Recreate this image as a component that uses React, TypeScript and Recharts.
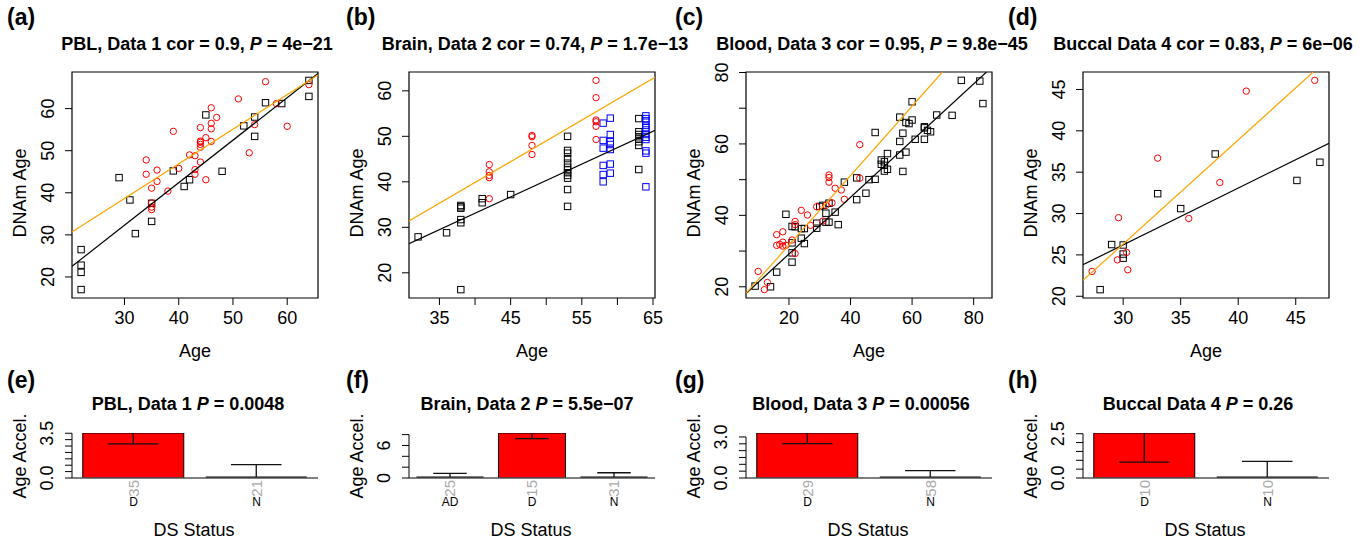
import React from 'react';
import { ScatterChart, Scatter, XAxis, YAxis, ReferenceArea, BarChart, Bar } from 'recharts';

const FONT = '"Liberation Sans", Arial, Helvetica, sans-serif';

// ---------------- (a) PBL, Data 1 ----------------
const pblNAge = [22, 22, 22, 22, 29, 31, 32, 35, 35, 39, 41, 42, 45, 48, 52, 54, 54, 56, 59, 64, 64];
const pblNDNAm = [26.5, 22.8, 21.1, 17.0, 43.6, 38.3, 30.3, 33.2, 37.5, 45.2, 41.5, 43.1, 58.5, 45.1, 55.9, 53.4, 58.0, 61.4, 61.2, 66.7, 62.9];
const pblDAge = [34, 34, 36, 36, 35, 35, 35, 35, 38, 39, 40, 42, 43, 43, 43, 44, 44, 44, 44, 44, 44, 45, 45, 46, 46, 46, 46, 47, 51, 53, 54, 56, 58, 60, 64];
const pblDDNAm = [47.8, 44.4, 45.4, 42.7, 41.1, 37.6, 36.6, 36.0, 40.4, 54.6, 45.8, 49.0, 48.8, 45.5, 44.4, 55.5, 52.3, 52.0, 51.5, 50.8, 47.3, 53.1, 43.1, 60.2, 56.5, 55.2, 52.2, 57.9, 62.3, 49.5, 56.2, 66.4, 61.2, 55.8, 65.7];
const pblFitBlack = [2.0, 1.01]; // intercept, slope
const pblFitOrange = [14.0, 0.822];

// ---------------- (b) Brain, Data 2 ----------------
const brainNAge = [32, 36, 38, 38, 38, 38, 38, 38, 41, 41, 45, 53, 53, 53, 53, 53, 53, 53, 53, 53, 53, 53, 53, 63, 63, 63, 63, 63, 63, 63, 63];
const brainNDNAm = [27.9, 28.8, 34.8, 34.2, 34.5, 31.7, 31.0, 16.3, 36.3, 35.4, 37.2, 50.0, 46.9, 46.3, 45.1, 44.1, 43.2, 42.6, 42.0, 41.4, 40.8, 38.3, 34.6, 53.9, 51.0, 50.4, 49.9, 49.4, 48.8, 48.0, 42.7];
const brainADAge = [58, 58, 58, 58, 58, 58, 59, 59, 59, 59, 59, 59, 59, 64, 64, 64, 64, 64, 64, 64, 64, 64, 64, 64, 64];
const brainADDNAm = [52.9, 49.1, 47.4, 43.6, 41.6, 40.0, 54.0, 50.4, 48.8, 48.2, 47.1, 43.9, 41.9, 54.5, 53.9, 53.4, 52.4, 51.9, 51.4, 50.4, 49.8, 49.3, 46.8, 46.3, 38.9];
const brainDAge = [42, 42, 42, 42, 42, 48, 48, 48, 48, 57, 57, 57, 57, 57, 57];
const brainDDNAm = [43.8, 42.2, 41.4, 40.9, 36.3, 50.2, 49.9, 48.0, 46.0, 62.3, 58.5, 53.6, 53.2, 52.2, 49.3];
const brainFitBlack = [4.3, 0.72];
const brainFitOrange = [3.3, 0.914];

// ---------------- (c) Blood, Data 3 ----------------
const bloodNAge = [9, 14, 16, 19, 21, 21, 21, 21, 22, 24, 24, 25, 25, 29, 29, 30, 31, 32, 32, 33, 33, 35, 36, 38, 42, 42, 45, 46, 48, 48, 50, 50, 51, 51, 51, 52, 52, 56, 56, 56, 57, 57, 58, 58, 59, 60, 60, 61, 64, 64, 64, 65, 66, 68, 73, 76, 82, 83];
const bloodNDNAm = [20.2, 20.0, 24.1, 40.3, 36.9, 32.3, 29.5, 26.9, 36.8, 36.3, 33.6, 36.3, 32.1, 37.8, 36.4, 42.5, 42.8, 38.1, 40.6, 43.4, 38.1, 40.9, 37.4, 49.3, 50.5, 44.4, 46.2, 50.0, 63.2, 50.1, 55.5, 54.3, 55.0, 54.0, 52.4, 57.3, 52.9, 67.5, 60.7, 56.9, 63.0, 52.3, 66.0, 57.7, 65.7, 71.8, 66.7, 61.3, 64.5, 64.8, 61.3, 63.8, 63.4, 68.1, 68.0, 77.8, 77.6, 71.3];
const bloodDAge = [10, 12, 13, 16, 16, 17, 18, 18, 18, 19, 21, 22, 22, 22, 24, 26, 27, 29, 31, 32, 33, 33, 33, 34, 35, 37, 38, 43, 43];
const bloodDDNAm = [24.3, 19.2, 21.2, 34.6, 31.6, 31.9, 35.4, 32.5, 31.4, 31.6, 33.1, 38.3, 37.4, 29.3, 41.4, 40.1, 37.2, 42.4, 38.4, 42.8, 51.3, 50.6, 49.3, 43.5, 47.6, 47.1, 44.5, 59.8, 50.4];
const bloodFitBlack = [13.3, 0.794];
const bloodFitOrange = [12.26, 0.972];

// ---------------- (d) Buccal Data 4 ----------------
const buccalNAge = [28, 29, 30, 30, 30, 33, 35, 38, 45.1, 47.1];
const buccalNDNAm = [20.8, 26.25, 26.2, 25.1, 24.6, 32.4, 30.6, 37.2, 34.0, 36.2];
const buccalDAge = [27.3, 29.5, 29.6, 30.3, 30.4, 33.0, 35.7, 38.4, 40.7, 46.65];
const buccalDDNAm = [23.0, 24.4, 29.5, 25.3, 23.2, 36.7, 29.4, 33.75, 44.8, 46.1];
const buccalFitBlack = [5.6, 0.687];
const buccalFitOrange = [-11.46, 1.259];

// ---------------- axes ----------------
const pblXDomain = [20.32, 65.68];
const pblYDomain = [15.0, 68.7];
const pblXTicks = [30, 40, 50, 60];
const pblXLabels = ['30', '40', '50', '60'];
const pblYTicks = [20, 30, 40, 50, 60];
const pblYLabels = ['20', '30', '40', '50', '60'];

const brainXDomain = [30.72, 65.28];
const brainYDomain = [14.46, 64.14];
const brainXTicks = [35, 40, 45, 50, 55, 60, 65];
const brainXLabels = ['35', '', '45', '', '55', '', '65'];
const brainYTicks = [20, 30, 40, 50, 60];
const brainYLabels = ['20', '30', '40', '50', '60'];

const bloodXDomain = [6.04, 85.96];
const bloodYDomain = [16.86, 80.14];
const bloodXTicks = [20, 40, 60, 80];
const bloodXLabels = ['20', '40', '60', '80'];
const bloodYTicks = [20, 30, 40, 50, 60, 70, 80];
const bloodYLabels = ['20', '', '40', '', '60', '', '80'];

const buccalXDomain = [26.51, 47.89];
const buccalYDomain = [19.79, 47.11];
const buccalXTicks = [30, 35, 40, 45];
const buccalXLabels = ['30', '35', '40', '45'];
const buccalYTicks = [20, 25, 30, 35, 40, 45];
const buccalYLabels = ['20', '25', '30', '35', '40', '45'];

// ---------------- bar panels (age acceleration) ----------------
const pblBarGroups = ['D', 'N'];
const pblBarCounts = [35, 21];
const pblBarMeans = [3.52, -0.2];
const pblBarSE = [0.85, 1.24];
const pblBarTicks = [0, 0.5, 1, 1.5, 2, 2.5, 3, 3.5];
const pblBarLabels = ['0.0', '', '', '', '', '', '', '3.5'];

const brainBarGroups = ['AD', 'D', 'N'];
const brainBarCounts = [25, 15, 31];
const brainBarMeans = [-0.2, 8.3, -0.2];
const brainBarSE = [1.05, 1.03, 1.17];
const brainBarTicks = [0, 2, 4, 6, 8];
const brainBarLabels = ['0', '', '', '6', ''];

const bloodBarGroups = ['D', 'N'];
const bloodBarCounts = [29, 58];
const bloodBarMeans = [3.29, -0.2];
const bloodBarSE = [0.78, 0.74];
const bloodBarTicks = [0, 0.5, 1, 1.5, 2, 2.5, 3];
const bloodBarLabels = ['0.0', '', '', '', '', '', '3.0'];

const buccalBarGroups = ['D', 'N'];
const buccalBarCounts = [10, 10];
const buccalBarMeans = [2.54, -0.2];
const buccalBarSE = [1.64, 1.14];
const buccalBarTicks = [0, 0.5, 1, 1.5, 2, 2.5];
const buccalBarLabels = ['0.0', '', '', '', '', '2.5'];

// ---------------- texts ----------------
const panelLetters = ['(a)', '(b)', '(c)', '(d)', '(e)', '(f)', '(g)', '(h)'];
const scatterTitleLead = ['PBL, Data 1 cor = 0.9, ', 'Brain, Data 2 cor = 0.74, ', 'Blood, Data 3 cor = 0.95, ', 'Buccal Data 4 cor = 0.83, '];
const scatterTitleP = ['4e\u221221', '1.7e\u221213', '9.8e\u221245', '6e\u221206'];
const barTitleLead = ['PBL, Data 1 ', 'Brain, Data 2 ', 'Blood, Data 3 ', 'Buccal Data 4 '];
const barTitleP = ['0.0048', '5.5e\u221207', '0.00056', '0.26'];

// ---------------- layout ----------------
const COL_LEFT = [72, 409, 746, 1083];
const PLOT_W = 246;
const SC_TOP = 72;
const SC_H = 226;
const BAR_TOP = 433;
const BAR_H = 45;
const Y_AXIS_W = 70;
const SC_M_TOP = 20;
const BAR_M_TOP = 30;
const M_RIGHT = 10;
const SC_X_AXIS_H = 75;
const BAR_X_AXIS_H = 62;
const LETTER_X = [7, 346, 675, 1008];
const SC_TITLE_X = [197, 535, 872, 1203];
const BAR_TITLE_X = [188, 527, 861, 1198];

type Pt = { x: number; y: number };
const zip = (xs: number[], ys: number[]): Pt[] => xs.map((x, i) => ({ x, y: ys[i] }));

function fitSegment(fit: number[], xd: number[], yd: number[]): Pt[] {
  const [b0, b1] = fit;
  const c: Pt[] = [];
  for (const xv of xd) {
    const yv = b0 + b1 * xv;
    if (yv >= yd[0] - 1e-9 && yv <= yd[1] + 1e-9) c.push({ x: xv, y: yv });
  }
  for (const yv of yd) {
    const xv = (yv - b0) / b1;
    if (xv > xd[0] && xv < xd[1]) c.push({ x: xv, y: yv });
  }
  c.sort((p, q) => p.x - q.x);
  return c.length >= 2 ? [c[0], c[c.length - 1]] : c;
}

const makeSquare = (color: string) => (props: any) => {
  const { cx, cy } = props;
  if (cx == null || cy == null) return <g />;
  return <rect x={cx - 3.2} y={cy - 3.2} width={6.4} height={6.4} fill="none" stroke={color} strokeWidth={1} />;
};
const makeCircle = (color: string) => (props: any) => {
  const { cx, cy } = props;
  if (cx == null || cy == null) return <g />;
  return <circle cx={cx} cy={cy} r={3.2} fill="none" stroke={color} strokeWidth={1} />;
};
const NoShape = () => <g />;

const findLabel = (ticks: number[], labels: string[], v: number) => {
  const i = ticks.findIndex((t) => Math.abs(t - v) < 1e-9);
  return i >= 0 ? labels[i] : '';
};

function scatterXTick(ticks: number[], labels: string[]) {
  return (props: any) => {
    const { x, y, payload } = props;
    const lab = findLabel(ticks, labels, payload.value);
    if (!lab) return <g />;
    return (
      <text x={x} y={y + 13} dy="0.358em" textAnchor="middle" fontFamily={FONT} fontSize={18} fill="#000">
        {lab}
      </text>
    );
  };
}

function scatterYTick(ticks: number[], labels: string[]) {
  return (props: any) => {
    const { x, y, payload } = props;
    const lab = findLabel(ticks, labels, payload.value);
    if (!lab) return <g />;
    const cx = x - 17;
    return (
      <text x={cx} y={y} dy="0.358em" transform={`rotate(-90 ${cx} ${y})`} textAnchor="middle" fontFamily={FONT} fontSize={18} fill="#000">
        {lab}
      </text>
    );
  };
}

type Group = { xs: number[]; ys: number[]; kind: 'square' | 'circle'; color: string };
type Fit = { coef: number[]; color: string };

function ScatterPanel(p: {
  col: number;
  xDomain: number[];
  yDomain: number[];
  xTicks: number[];
  xLabels: string[];
  yTicks: number[];
  yLabels: string[];
  groups: Group[];
  fits: Fit[];
}) {
  return (
    <div style={{ position: 'absolute', left: COL_LEFT[p.col] - Y_AXIS_W, top: SC_TOP - SC_M_TOP }}>
      <ScatterChart
        width={Y_AXIS_W + PLOT_W + M_RIGHT}
        height={SC_M_TOP + SC_H + SC_X_AXIS_H}
        margin={{ top: SC_M_TOP, right: M_RIGHT, bottom: 0, left: 0 }}
      >
        <XAxis
          type="number"
          dataKey="x"
          domain={p.xDomain}
          allowDataOverflow
          ticks={p.xTicks}
          interval={0}
          height={SC_X_AXIS_H}
          axisLine={false}
          tickLine={{ stroke: '#000', strokeWidth: 1 }}
          tickSize={7}
          tickMargin={0}
          tick={scatterXTick(p.xTicks, p.xLabels)}
        />
        <YAxis
          type="number"
          dataKey="y"
          domain={p.yDomain}
          allowDataOverflow
          ticks={p.yTicks}
          interval={0}
          width={Y_AXIS_W}
          axisLine={false}
          tickLine={{ stroke: '#000', strokeWidth: 1 }}
          tickSize={7}
          tickMargin={0}
          tick={scatterYTick(p.yTicks, p.yLabels)}
        />
        {p.groups.map((g, i) => (
          <Scatter
            key={'g' + i}
            data={zip(g.xs, g.ys)}
            shape={g.kind === 'square' ? makeSquare(g.color) : makeCircle(g.color)}
            isAnimationActive={false}
          />
        ))}
        {p.fits.map((f, i) => (
          <Scatter
            key={'f' + i}
            data={fitSegment(f.coef, p.xDomain, p.yDomain)}
            line={{ stroke: f.color, strokeWidth: 1.2 }}
            shape={NoShape}
            isAnimationActive={false}
          />
        ))}
        <ReferenceArea
          x1={p.xDomain[0]}
          x2={p.xDomain[1]}
          y1={p.yDomain[0]}
          y2={p.yDomain[1]}
          fill="none"
          fillOpacity={0}
          stroke="#000"
          strokeWidth={1.2}
          ifOverflow="visible"
        />
      </ScatterChart>
    </div>
  );
}

const BAR_ZERO_Y = BAR_M_TOP + BAR_H;

const barShape = (props: any) => {
  const { x, y, width, height, payload } = props;
  const mean: number = payload.mean;
  const se: number = payload.se;
  if (!mean || !height) return <g />;
  const k = Math.abs(height) / Math.abs(mean);
  const y1 = Math.min(y, y + height);
  const y2 = Math.max(y, y + height);
  const zeroY = mean > 0 ? y2 : y1;
  const top = BAR_M_TOP;
  const bottom = BAR_ZERO_Y;
  const rTop = Math.max(y1, top);
  const rBot = Math.min(y2, bottom);
  const cx = x + width / 2;
  const half = width / 4;
  const hiY = zeroY - (mean + se) * k;
  const loY = zeroY - (mean - se) * k;
  const vTop = Math.max(hiY, top);
  const vBot = Math.min(loY, bottom);
  return (
    <g>
      {rBot - rTop > 1 ? (
        <rect x={x} y={rTop} width={width} height={rBot - rTop} fill="#FF0000" stroke="#000" strokeWidth={1} />
      ) : (
        <line x1={x} x2={x + width} y1={zeroY - 0.5} y2={zeroY - 0.5} stroke="#000" strokeWidth={2} />
      )}
      {vBot > vTop && <line x1={cx} x2={cx} y1={vTop} y2={vBot} stroke="#111" strokeWidth={1.3} />}
      {hiY >= top - 0.5 && <line x1={cx - half} x2={cx + half} y1={hiY} y2={hiY} stroke="#111" strokeWidth={1.3} />}
      {loY <= bottom + 0.5 && <line x1={cx - half} x2={cx + half} y1={loY} y2={loY} stroke="#111" strokeWidth={1.3} />}
    </g>
  );
};

function barXTick(counts: number[]) {
  return (props: any) => {
    const { x, y, payload, index } = props;
    const cnt = counts[index];
    const ay = y + 2;
    return (
      <g>
        <text x={x} y={ay} dy="0.358em" transform={`rotate(-90 ${x} ${ay})`} textAnchor="end" fontFamily={FONT} fontSize={15} fill="#aaaaaa">
          {cnt}
        </text>
        <text x={x} y={y + 24} dy="0.358em" textAnchor="middle" fontFamily={FONT} fontSize={12} fill="#000">
          {payload.value}
        </text>
      </g>
    );
  };
}

function barYTick(ticks: number[], labels: string[]) {
  return (props: any) => {
    const { x, y, payload } = props;
    const i = ticks.findIndex((t) => Math.abs(t - payload.value) < 1e-9);
    const lab = i >= 0 ? labels[i] : '';
    const axisX = x + 7;
    const cx = x - 18;
    return (
      <g>
        {i === ticks.length - 1 && <line x1={axisX} x2={axisX} y1={y} y2={BAR_ZERO_Y} stroke="#000" strokeWidth={1} />}
        {lab && (
          <text x={cx} y={y} dy="0.358em" transform={`rotate(-90 ${cx} ${y})`} textAnchor="middle" fontFamily={FONT} fontSize={18} fill="#000">
            {lab}
          </text>
        )}
      </g>
    );
  };
}

function BarPanel(p: {
  col: number;
  groups: string[];
  counts: number[];
  means: number[];
  se: number[];
  ticks: number[];
  labels: string[];
  gap: string;
}) {
  const rows = p.groups.map((g, i) => ({ group: g, mean: p.means[i], se: p.se[i] }));
  const top = Math.max(...p.means);
  return (
    <div style={{ position: 'absolute', left: COL_LEFT[p.col] - Y_AXIS_W, top: BAR_TOP - BAR_M_TOP }}>
      <BarChart
        width={Y_AXIS_W + PLOT_W + M_RIGHT}
        height={BAR_M_TOP + BAR_H + BAR_X_AXIS_H}
        data={rows}
        margin={{ top: BAR_M_TOP, right: M_RIGHT, bottom: 0, left: 0 }}
        barCategoryGap={p.gap}
      >
        <XAxis
          dataKey="group"
          type="category"
          height={BAR_X_AXIS_H}
          axisLine={{ stroke: '#555', strokeWidth: 1.5 }}
          tickLine={false}
          tickSize={0}
          tickMargin={0}
          interval={0}
          tick={barXTick(p.counts)}
        />
        <YAxis
          type="number"
          width={Y_AXIS_W}
          domain={[0, top]}
          allowDataOverflow
          ticks={p.ticks}
          interval={0}
          axisLine={false}
          tickLine={{ stroke: '#000', strokeWidth: 1 }}
          tickSize={7}
          tickMargin={0}
          tick={barYTick(p.ticks, p.labels)}
        />
        <Bar dataKey="mean" shape={barShape} isAnimationActive={false} />
      </BarChart>
    </div>
  );
}

function Overlay() {
  const txt = { fontFamily: FONT, fill: '#000' } as const;
  return (
    <svg width={1370} height={540} style={{ position: 'absolute', left: 0, top: 0, pointerEvents: 'none' }}>
      {panelLetters.map((l, i) => (
        <text key={l} x={LETTER_X[i % 4]} y={i < 4 ? 25.2 : 388} fontSize={23} fontWeight="bold" {...txt}>
          {l}
        </text>
      ))}
      {scatterTitleLead.map((t, i) => (
        <text key={'st' + i} x={SC_TITLE_X[i]} y={50.1} textAnchor="middle" fontSize={18} fontWeight="bold" style={{ whiteSpace: 'pre' }} {...txt}>
          {t}
          <tspan fontStyle="italic">P</tspan>
          {' = ' + scatterTitleP[i]}
        </text>
      ))}
      {barTitleLead.map((t, i) => (
        <text key={'bt' + i} x={BAR_TITLE_X[i]} y={409.7} textAnchor="middle" fontSize={18} fontWeight="bold" style={{ whiteSpace: 'pre' }} {...txt}>
          {t}
          <tspan fontStyle="italic">P</tspan>
          {' = ' + barTitleP[i]}
        </text>
      ))}
      {COL_LEFT.map((c, i) => (
        <g key={'ax' + i}>
          <text x={c + PLOT_W / 2} y={357.4} textAnchor="middle" fontSize={18} {...txt}>
            Age
          </text>
          <text x={c - 52} y={193} dy="0.358em" transform={`rotate(-90 ${c - 52} 193)`} textAnchor="middle" fontSize={18} {...txt}>
            DNAm Age
          </text>
          <text x={c + PLOT_W / 2 - 1} y={535.7} textAnchor="middle" fontSize={18} {...txt}>
            DS Status
          </text>
          <text x={c - 52} y={456} dy="0.358em" transform={`rotate(-90 ${c - 52} 456)`} textAnchor="middle" fontSize={18} {...txt}>
            Age Accel.
          </text>
        </g>
      ))}
    </svg>
  );
}

export default function App() {
  return (
    <div style={{ position: 'absolute', left: 0, top: 0, width: 1370, height: 540, background: '#fff', overflow: 'hidden', fontFamily: FONT }}>
      <ScatterPanel
        col={0}
        xDomain={pblXDomain}
        yDomain={pblYDomain}
        xTicks={pblXTicks}
        xLabels={pblXLabels}
        yTicks={pblYTicks}
        yLabels={pblYLabels}
        groups={[
          { xs: pblNAge, ys: pblNDNAm, kind: 'square', color: '#000000' },
          { xs: pblDAge, ys: pblDDNAm, kind: 'circle', color: '#FF0000' },
        ]}
        fits={[
          { coef: pblFitBlack, color: '#000000' },
          { coef: pblFitOrange, color: '#FFA500' },
        ]}
      />
      <ScatterPanel
        col={1}
        xDomain={brainXDomain}
        yDomain={brainYDomain}
        xTicks={brainXTicks}
        xLabels={brainXLabels}
        yTicks={brainYTicks}
        yLabels={brainYLabels}
        groups={[
          { xs: brainNAge, ys: brainNDNAm, kind: 'square', color: '#000000' },
          { xs: brainADAge, ys: brainADDNAm, kind: 'square', color: '#0000FF' },
          { xs: brainDAge, ys: brainDDNAm, kind: 'circle', color: '#FF0000' },
        ]}
        fits={[
          { coef: brainFitBlack, color: '#000000' },
          { coef: brainFitOrange, color: '#FFA500' },
        ]}
      />
      <ScatterPanel
        col={2}
        xDomain={bloodXDomain}
        yDomain={bloodYDomain}
        xTicks={bloodXTicks}
        xLabels={bloodXLabels}
        yTicks={bloodYTicks}
        yLabels={bloodYLabels}
        groups={[
          { xs: bloodNAge, ys: bloodNDNAm, kind: 'square', color: '#000000' },
          { xs: bloodDAge, ys: bloodDDNAm, kind: 'circle', color: '#FF0000' },
        ]}
        fits={[
          { coef: bloodFitBlack, color: '#000000' },
          { coef: bloodFitOrange, color: '#FFA500' },
        ]}
      />
      <ScatterPanel
        col={3}
        xDomain={buccalXDomain}
        yDomain={buccalYDomain}
        xTicks={buccalXTicks}
        xLabels={buccalXLabels}
        yTicks={buccalYTicks}
        yLabels={buccalYLabels}
        groups={[
          { xs: buccalNAge, ys: buccalNDNAm, kind: 'square', color: '#000000' },
          { xs: buccalDAge, ys: buccalDDNAm, kind: 'circle', color: '#FF0000' },
        ]}
        fits={[
          { coef: buccalFitBlack, color: '#000000' },
          { coef: buccalFitOrange, color: '#FFA500' },
        ]}
      />
      <BarPanel col={0} groups={pblBarGroups} counts={pblBarCounts} means={pblBarMeans} se={pblBarSE} ticks={pblBarTicks} labels={pblBarLabels} gap="8.75%" />
      <BarPanel col={1} groups={brainBarGroups} counts={brainBarCounts} means={brainBarMeans} se={brainBarSE} ticks={brainBarTicks} labels={brainBarLabels} gap="9.15%" />
      <BarPanel col={2} groups={bloodBarGroups} counts={bloodBarCounts} means={bloodBarMeans} se={bloodBarSE} ticks={bloodBarTicks} labels={bloodBarLabels} gap="8.75%" />
      <BarPanel col={3} groups={buccalBarGroups} counts={buccalBarCounts} means={buccalBarMeans} se={buccalBarSE} ticks={buccalBarTicks} labels={buccalBarLabels} gap="8.75%" />
      <Overlay />
    </div>
  );
}
